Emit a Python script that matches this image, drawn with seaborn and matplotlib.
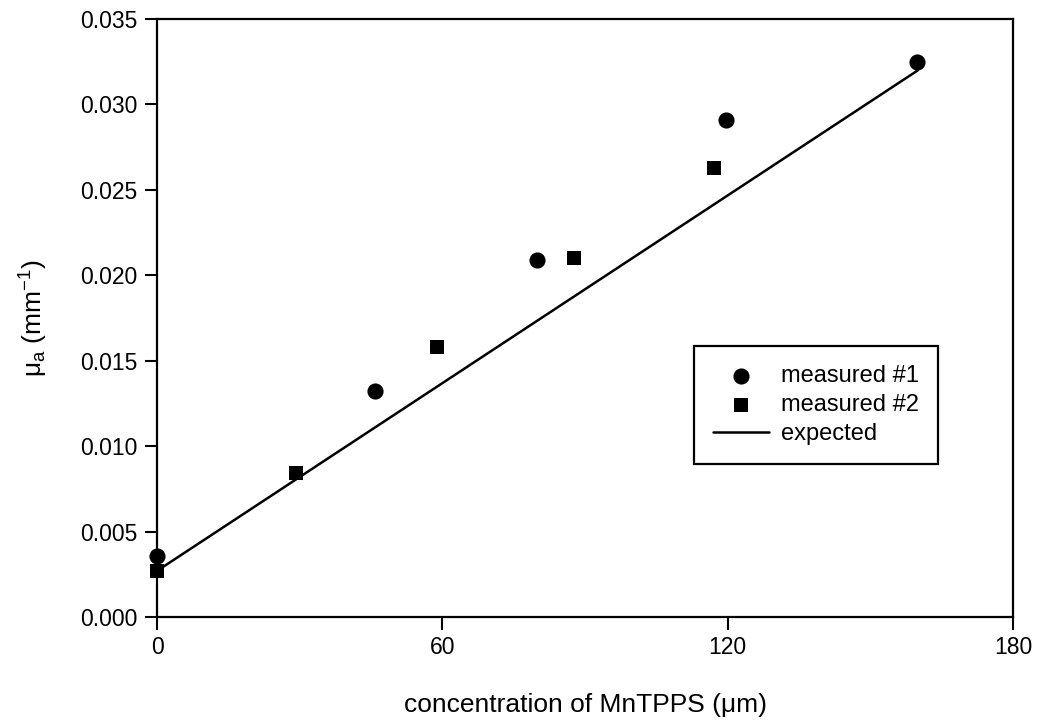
import numpy as np
import pandas as pd
import matplotlib
matplotlib.use("Agg")
import matplotlib.pyplot as plt
import seaborn as sns

# -- data ---------------------------------------------------------------------
conc_1 = [0, 45.8, 79.9, 119.6, 159.8]
mua_1 = [0.0036, 0.0132, 0.0209, 0.0291, 0.0325]

conc_2 = [0, 29.2, 58.9, 87.7, 117.1]
mua_2 = [0.0027, 0.0084, 0.0158, 0.0210, 0.0263]

conc_exp = [0, 160]
mua_exp = [0.0027, 0.0320]

x_ticks = [0, 60, 120, 180]
y_ticks = [0.000, 0.005, 0.010, 0.015, 0.020, 0.025, 0.030, 0.035]

sns.set_theme(style="ticks")
plt.rcParams["font.family"] = ["Liberation Sans", "DejaVu Sans"]
plt.rcParams["mathtext.default"] = "regular"
plt.rcParams.update({"text.color": "black", "axes.labelcolor": "black"})

df1 = pd.DataFrame({"conc": conc_1, "mua": mua_1})
df2 = pd.DataFrame({"conc": conc_2, "mua": mua_2})
dfe = pd.DataFrame({"conc": conc_exp, "mua": mua_exp})

fig = plt.figure(figsize=(10.37, 7.23), dpi=100)
ax = fig.add_axes([0.1514, 0.1466, 0.8255, 0.8271])

sns.lineplot(data=dfe, x="conc", y="mua", ax=ax, color="black", linewidth=1.8,
             label="expected", zorder=2)
sns.scatterplot(data=df1, x="conc", y="mua", ax=ax, marker="o", s=135, color="black",
                edgecolor="black", linewidth=0, label="measured #1", zorder=3)
sns.scatterplot(data=df2, x="conc", y="mua", ax=ax, marker="s", s=100, color="black",
                edgecolor="black", linewidth=0, label="measured #2", zorder=3)
for coll in ax.collections:
    coll.set_clip_on(False)

ax.set_xlim(0, 180)
ax.set_ylim(0, 0.035)
ax.set_xticks(x_ticks)
ax.set_yticks(y_ticks)
ax.set_xticklabels([str(t) for t in x_ticks])
ax.set_yticklabels([f"{t:.3f}" for t in y_ticks])
ax.tick_params(direction="out", length=9, width=1.5, labelsize=16.5, colors="black", pad=5)
for sp in ax.spines.values():
    sp.set_visible(True)
    sp.set_linewidth(1.6)
    sp.set_color("black")

ax.set_xlabel("concentration of MnTPPS (μm)", fontsize=19, labelpad=24)
ax.set_ylabel("μ$_a$ (mm$^{-1}$)", fontsize=19, labelpad=22)

handles, labels = ax.get_legend_handles_labels()
order = [labels.index("measured #1"), labels.index("measured #2"), labels.index("expected")]
leg = ax.legend([handles[i] for i in order], [labels[i] for i in order],
                loc="upper left", bbox_to_anchor=(0.627, 0.453), borderaxespad=0,
                fontsize=17, frameon=True, fancybox=False, edgecolor="black",
                framealpha=1, handlelength=2.4, handletextpad=0.5, borderpad=0.8,
                labelspacing=0.3)
leg.get_frame().set_linewidth(1.6)

fig.savefig("out.png", dpi=100)
plt.close(fig)
